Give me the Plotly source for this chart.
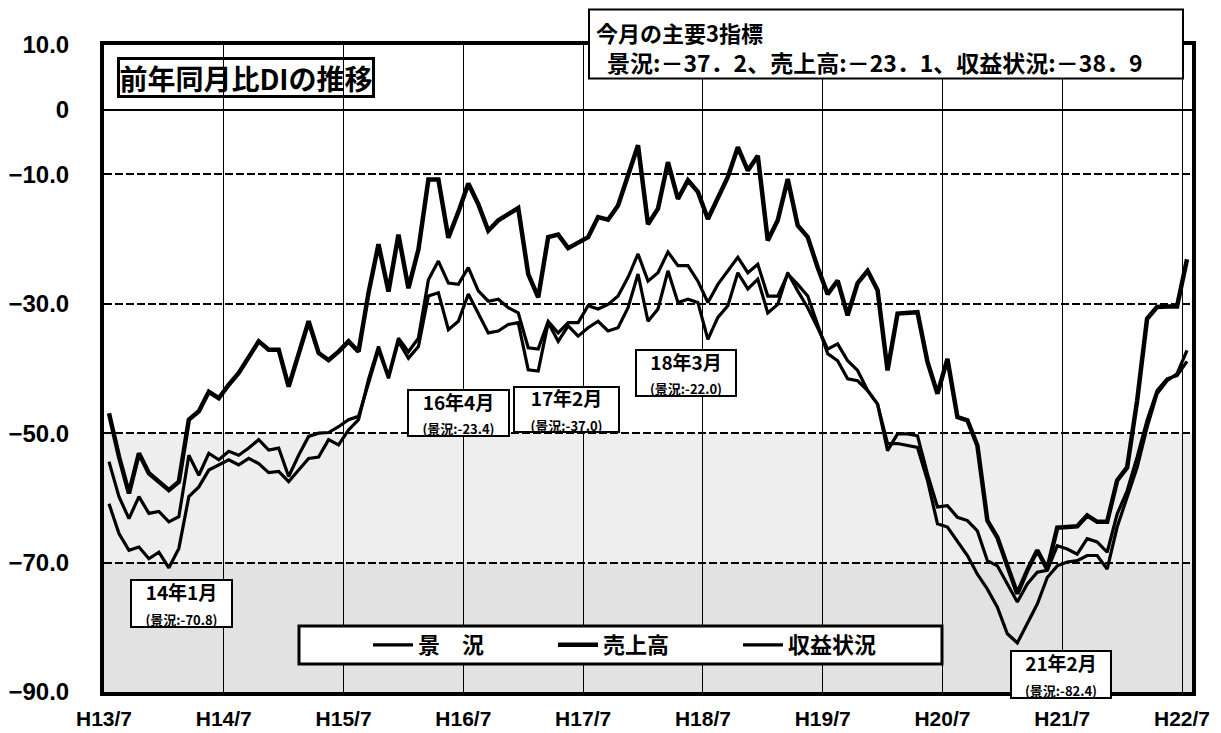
import plotly.graph_objects as go

# ---------------- data ----------------
tick_labels = ["H13/7", "H14/7", "H15/7", "H16/7", "H17/7",
               "H18/7", "H19/7", "H20/7", "H21/7", "H22/7"]

keikyo = [-60.9, -65.5, -68.1, -67.6, -69.4, -68.4, -70.8, -67.8, -59.8, -58.3,
          -55.7, -54.9, -54.1, -54.9, -53.9, -54.7, -56.1, -55.9, -57.5, -55.7,
          -53.9, -53.7, -51.0, -51.8, -49.5, -47.9, -41.7, -36.6, -41.2, -35.3,
          -37.4, -35.3, -26.3, -23.4, -26.8, -27.0, -24.4, -28.0, -29.6, -29.3,
          -30.6, -31.4, -36.8, -37.0, -32.7, -34.5, -32.9, -32.9, -30.3, -30.8,
          -30.1, -28.8, -25.9, -22.3, -26.5, -25.2, -22.0, -24.1, -24.1, -26.5,
          -29.8, -27.0, -24.9, -22.8, -25.2, -23.9, -28.8, -28.8, -25.4, -27.0,
          -28.8, -33.2, -37.7, -38.8, -41.6, -41.9, -43.4, -45.5, -51.6, -51.6,
          -51.9, -52.2, -57.3, -64.0, -64.5, -66.6, -68.9, -71.8, -74.1, -76.9,
          -81.0, -82.4, -79.5, -76.4, -72.3, -70.5, -69.9, -69.7, -68.9, -68.9,
          -71.0, -64.5, -59.9, -55.3, -49.1, -43.9, -41.9, -40.8, -37.2]

uriage = [-46.9, -53.6, -59.3, -53.1, -56.2, -57.5, -58.8, -57.5, -47.9, -46.6,
          -43.6, -44.6, -42.5, -40.7, -38.4, -35.8, -37.1, -37.1, -42.8, -37.9,
          -32.7, -37.6, -38.7, -37.4, -35.8, -37.4, -28.3, -20.8, -28.1, -19.3,
          -27.6, -21.6, -10.8, -10.8, -19.8, -15.8, -11.4, -14.6, -18.7, -17.1,
          -16.1, -15.2, -25.4, -29.0, -19.7, -19.3, -21.4, -20.5, -19.7, -16.6,
          -17.0, -14.8, -10.4, -5.5, -17.7, -15.3, -8.1, -13.8, -10.9, -12.7,
          -16.9, -13.5, -10.4, -5.8, -9.4, -7.1, -20.2, -17.1, -10.7, -17.9,
          -19.7, -24.4, -28.5, -26.4, -31.8, -26.8, -24.9, -27.9, -40.3, -31.5,
          -31.4, -31.3, -39.0, -43.9, -38.5, -47.5, -48.0, -51.9, -63.5, -66.1,
          -70.5, -74.8, -71.2, -68.1, -71.0, -64.6, -64.5, -64.4, -62.7, -63.7,
          -63.7, -57.3, -55.3, -45.0, -32.3, -30.5, -30.4, -30.4, -23.1]

shueki = [-54.4, -59.8, -63.2, -59.8, -62.4, -62.1, -63.7, -62.9, -53.4, -56.5,
          -53.1, -54.1, -52.8, -53.4, -52.3, -51.0, -52.6, -52.3, -56.7, -53.4,
          -50.5, -50.0, -49.9, -49.0, -47.9, -47.4, -42.3, -37.1, -41.5, -35.8,
          -38.4, -36.6, -28.8, -28.3, -34.0, -32.7, -28.5, -31.6, -34.5, -34.2,
          -33.2, -32.9, -40.2, -40.4, -32.9, -35.8, -33.4, -35.0, -33.7, -32.7,
          -34.2, -33.7, -30.6, -25.4, -32.7, -30.8, -24.9, -29.8, -29.3, -29.8,
          -35.5, -32.1, -30.3, -25.2, -27.7, -26.2, -31.4, -30.1, -25.2, -28.0,
          -30.6, -33.7, -37.0, -36.2, -38.8, -40.3, -43.4, -45.5, -52.7, -50.1,
          -50.1, -50.4, -56.3, -61.4, -61.2, -63.0, -63.5, -65.1, -69.7, -70.5,
          -73.3, -76.1, -73.3, -71.5, -71.2, -67.4, -67.9, -68.7, -66.3, -66.8,
          -68.4, -62.5, -58.9, -53.7, -48.0, -43.4, -41.6, -41.1, -38.9]

series_names = ["景　況", "売上高", "収益状況"]
y_tickvals = [10, 0, -10, -30, -50, -70, -90]
y_ticktext = ["10.0", "0", "−10.0", "−30.0", "−50.0", "−70.0", "−90.0"]

callouts = [  # (label, value text)
    ("14年1月", "(景況:-70.8)"),
    ("16年4月", "(景況:-23.4)"),
    ("17年2月", "(景況:-37.0)"),
    ("18年3月", "(景況:-22.0)"),
    ("21年2月", "(景況:-82.4)"),
]
summary_title = "今月の主要3指標"
summary_text = "景況:－37．2、売上高:－23．1、収益状況:－38．9"
chart_title = "前年同月比DIの推移"

# ---------------- layout helpers ----------------
W, H = 1221, 733
L, R, T, B = 104, 1192, 44.5, 692
JP = "Noto Sans CJK JP, sans-serif"


def pxx(x):
    return (x - L) / (R - L)


def pxy(y):
    return (B - y) / (B - T)


n = len(keikyo)
xs = [i + 0.5 for i in range(n)]

fig = go.Figure()
for name, vals, w in [(series_names[0], keikyo, 3.2),
                      (series_names[1], uriage, 4.5),
                      (series_names[2], shueki, 3.2)]:
    fig.add_trace(go.Scatter(x=xs, y=vals, mode="lines", name=name,
                             line=dict(color="black", width=w),
                             hoverinfo="skip"))

shapes = [
    # stippled background bands
    dict(type="rect", xref="x", yref="y", x0=0, x1=n, y0=-50, y1=-70,
         fillcolor="#eeeeee", line=dict(width=0), layer="below"),
    dict(type="rect", xref="x", yref="y", x0=0, x1=n, y0=-70, y1=-90,
         fillcolor="#e2e2e2", line=dict(width=0), layer="below"),
    # summary box
    dict(type="rect", xref="paper", yref="paper",
         x0=pxx(589), x1=pxx(1183), y0=pxy(78), y1=pxy(9),
         fillcolor="white", line=dict(color="black", width=2), layer="above"),
    # legend box
    dict(type="rect", xref="paper", yref="paper",
         x0=pxx(299), x1=pxx(942), y0=pxy(664), y1=pxy(626),
         fillcolor="white", line=dict(color="black", width=3), layer="above"),
]

annotations = [
    dict(xref="paper", yref="paper", x=pxx(246), y=pxy(77.5),
         xanchor="center", yanchor="middle", text=chart_title, showarrow=False,
         font=dict(family=JP, size=28, color="black", weight=700),
         bgcolor="rgba(255,255,255,0)", bordercolor="black", borderwidth=3,
         borderpad=0, width=252, height=35),
    dict(xref="paper", yref="paper", x=pxx(594), y=pxy(31),
         xanchor="left", yanchor="middle", text=summary_title, showarrow=False,
         font=dict(family=JP, size=22, color="black", weight=700)),
    dict(xref="paper", yref="paper", x=pxx(605), y=pxy(62),
         xanchor="left", yanchor="middle", text=summary_text, showarrow=False,
         font=dict(family=JP, size=23, color="black", weight=700)),
]

box_pos = [(130, 233, 579, 628), (407, 510, 389, 437), (513, 620, 386, 433),
           (635, 737, 349, 397), (1010, 1112, 650, 699)]
for (lab, val), (x0, x1, y0, y1) in zip(callouts, box_pos):
    annotations.append(dict(
        xref="paper", yref="paper", x=pxx((x0 + x1) / 2), y=pxy((y0 + y1) / 2),
        xanchor="center", yanchor="middle", showarrow=False,
        text=f"{lab}<br><span style='font-size:13px'>{val}</span>",
        font=dict(family=JP, size=19, color="black", weight=700),
        bgcolor="white", bordercolor="black", borderwidth=2, borderpad=0,
        width=(x1 - x0) - 4, height=(y1 - y0) - 4))

fig.update_layout(
    width=W, height=H,
    margin=dict(l=L, r=W - R, t=T, b=H - B, pad=0, autoexpand=False),
    paper_bgcolor="white", plot_bgcolor="white",
    shapes=shapes, annotations=annotations,
    showlegend=True,
    legend=dict(orientation="h", x=pxx(368), y=pxy(645),
                xanchor="left", yanchor="middle",
                bgcolor="rgba(0,0,0,0)", borderwidth=0,
                font=dict(family=JP, size=22, color="black", weight=700),
                entrywidth=130, entrywidthmode="pixels", itemwidth=40,
                itemclick=False, itemdoubleclick=False),
    xaxis=dict(range=[0, n], tickmode="array",
               tickvals=[12 * k for k in range(len(tick_labels))],
               ticktext=tick_labels, ticks="", ticklabelstandoff=5,
               tickfont=dict(family="Liberation Sans", size=21, color="black", weight=700),
               showgrid=True, gridcolor="black", gridwidth=1,
               zeroline=False, showline=True, linecolor="black",
               linewidth=4, mirror=True, fixedrange=True, automargin=False),
    yaxis=dict(range=[-90, 10], tickmode="array", tickvals=y_tickvals,
               ticktext=y_ticktext, ticks="", ticklabelstandoff=26,
               tickfont=dict(family="Liberation Sans", size=24, color="black", weight=700),
               showgrid=True, gridcolor="black", gridwidth=2, griddash="8px,3px",
               zeroline=True, zerolinecolor="black", zerolinewidth=2,
               showline=True, linecolor="black", linewidth=4, mirror=True,
               fixedrange=True, automargin=False),
)

fig.write_html("out.html", config={"displayModeBar": False})

with open("out.html", "r", encoding="utf-8") as f:
    html = f.read()
html = html.replace("<head>", "<head><style>html,body{margin:0;padding:0;}</style>", 1)
with open("out.html", "w", encoding="utf-8") as f:
    f.write(html)
